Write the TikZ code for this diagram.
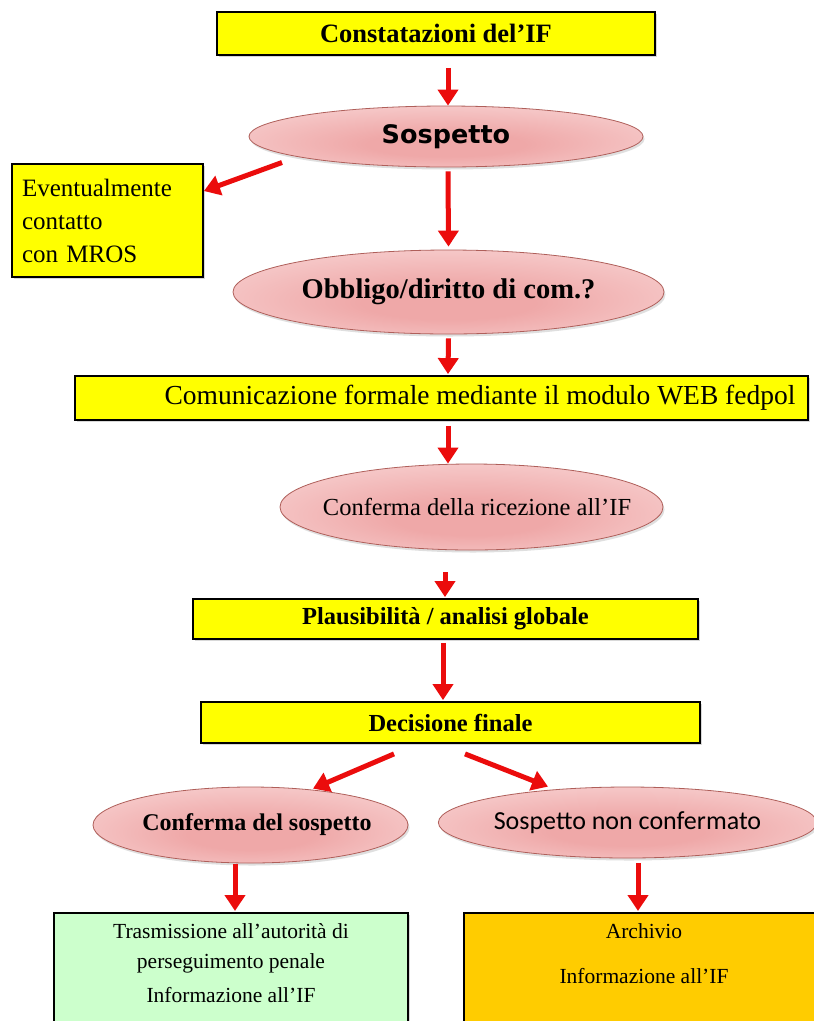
\documentclass[tikz,border=0pt]{standalone}
\usepackage{fontspec}
\setmainfont{Liberation Serif}
\newfontfamily\headsans{DejaVu Sans}
\newfontfamily\calsans{Carlito}
\usetikzlibrary{shapes.geometric,arrows.meta,shadows,calc}
\definecolor{boxyellow}{RGB}{255,255,0}
\definecolor{boxgreen}{RGB}{204,255,204}
\definecolor{boxorange}{RGB}{255,204,0}
\definecolor{ellin}{RGB}{239,168,168}
\definecolor{ellout}{RGB}{253,236,236}
\definecolor{ellline}{RGB}{175,95,90}
\definecolor{arrred}{RGB}{235,12,12}
\pgfdeclareradialshading{ellshade}{\pgfpoint{0bp}{-8bp}}{color(0bp)=(ellin); color(10bp)=(ellin); color(50bp)=(ellout)}
% text set off-centre inside a node without widening the node
\newcommand{\offtext}[2]{\makebox[0pt]{\hspace*{#1}#2}}
\begin{document}
\begin{tikzpicture}[x=1pt,y=-1pt,
  box/.style={rectangle, draw=black, line width=1.8pt, fill=boxyellow, inner sep=0pt,
    drop shadow={shadow xshift=2pt,shadow yshift=-2pt,opacity=0.3}},
  oval/.style={ellipse, draw=ellline, line width=0.8pt, shading=ellshade, inner sep=0pt,
    drop shadow={shadow xshift=1.5pt,shadow yshift=-2.5pt,opacity=0.25}},
  arr/.style={draw=arrred, line width=5pt, -{Triangle[width=20pt,length=16pt]}},
  boxtext/.style={anchor=north, align=center, inner sep=0pt, font=\fontsize{21.5}{30}\selectfont}
  ]
\useasboundingbox (0,0) rectangle (814,1021);
\clip (0,0) rectangle (814,1021);
\fill[white] (0,0) rectangle (814,1021);

% main column
\node[box, minimum width=438pt, minimum height=43pt, font=\bfseries\fontsize{26.5}{30}\selectfont]
  (c1) at (436,33.5) {Constatazioni del’IF};
\node[oval, minimum width=394pt, minimum height=61pt, font=\headsans\bfseries\fontsize{25.5}{28}\selectfont]
  (sosp) at (446,136.5) {Sospetto};
\node[box, minimum width=191pt, minimum height=113pt, text width=171pt, align=left, inner xsep=10pt,
  font=\fontsize{25}{33}\selectfont]
  (ev) at (107.5,220.5) {Eventualmente\\contatto\\con MROS};
\node[oval, minimum width=431pt, minimum height=84pt, font=\bfseries\fontsize{28.5}{30}\selectfont]
  (ob) at (448.5,292) {Obbligo/diritto di com.?};
\node[box, minimum width=733pt, minimum height=44pt, font=\fontsize{27.5}{30}\selectfont]
  (com) at (441.5,398) {\offtext{77pt}{Comunicazione formale mediante il modulo WEB fedpol}};
\node[oval, minimum width=383pt, minimum height=86pt, font=\fontsize{24.5}{28}\selectfont]
  (conf) at (471.5,507) {\offtext{11pt}{Conferma della ricezione all’IF}};
\node[box, minimum width=505pt, minimum height=40pt, font=\bfseries\fontsize{24.5}{28}\selectfont]
  (pl) at (445.5,619) {Plausibilità / analisi globale};
\node[box, minimum width=499pt, minimum height=41pt, font=\bfseries\fontsize{24.5}{28}\selectfont]
  (dec) at (450.5,722.5) {Decisione finale};

% two outcomes
\node[oval, minimum width=315pt, minimum height=76pt, font=\bfseries\fontsize{24}{28}\selectfont]
  (cs) at (250.5,825) {\offtext{13pt}{Conferma del sospetto}};
\node[oval, minimum width=371pt, minimum height=71pt, font=\calsans\fontsize{26}{30}\selectfont]
  (snc) at (627.5,822.5) {Sospetto non confermato};
\node[box, fill=boxgreen, minimum width=354pt, minimum height=130pt, anchor=north] (tr) at (231,912) {};
\node[box, fill=boxorange, minimum width=366pt, minimum height=130pt, anchor=north] (ar) at (647,912) {};
\node[boxtext] (trtxt) at ([yshift=-11pt]tr.north)
  {Trasmissione all’autorità di\\perseguimento penale\\[4pt]Informazione all’IF};
\node[boxtext] (artxt) at ([xshift=-3pt,yshift=-11pt]ar.north)
  {Archivio\\[15pt]Informazione all’IF};

% connectors
\draw[arr] ([xshift=12pt,yshift=-12pt]c1.south) -- ([xshift=2pt]sosp.north);
\draw[arr] ([xshift=-164pt,yshift=-26pt]sosp.center) -- (ev.17);
\draw[arr] ([xshift=2pt,yshift=-4pt]sosp.south) -- ([yshift=3pt]ob.north);
\draw[arr] ([yshift=-4pt]ob.south) -- ([xshift=6.5pt,yshift=1pt]com.north);
\draw[arr] ([xshift=6.5pt,yshift=-5pt]com.south) -- ([xshift=-23.5pt]conf.north);
\draw[arr] ([xshift=-26.5pt,yshift=-22pt]conf.south) -- ([xshift=-0.5pt,yshift=1pt]pl.north);
\draw[arr] ([xshift=-2.5pt,yshift=-3pt]pl.south) -- ([xshift=-7.5pt,yshift=1pt]dec.north);
\draw[arr] ([xshift=-56.5pt,yshift=-10pt]dec.south) -- ([xshift=62.5pt,yshift=-2pt]cs.north);
\draw[arr] ([xshift=14.5pt,yshift=-10pt]dec.south) -- ([xshift=-79.5pt]snc.north);
\draw[arr] ([xshift=-15.5pt,yshift=-1pt]cs.south) -- ([xshift=4pt,yshift=1pt]tr.north);
\draw[arr] ([xshift=10.5pt,yshift=-5pt]snc.south) -- ([xshift=-9pt,yshift=1pt]ar.north);
\end{tikzpicture}
\end{document}
